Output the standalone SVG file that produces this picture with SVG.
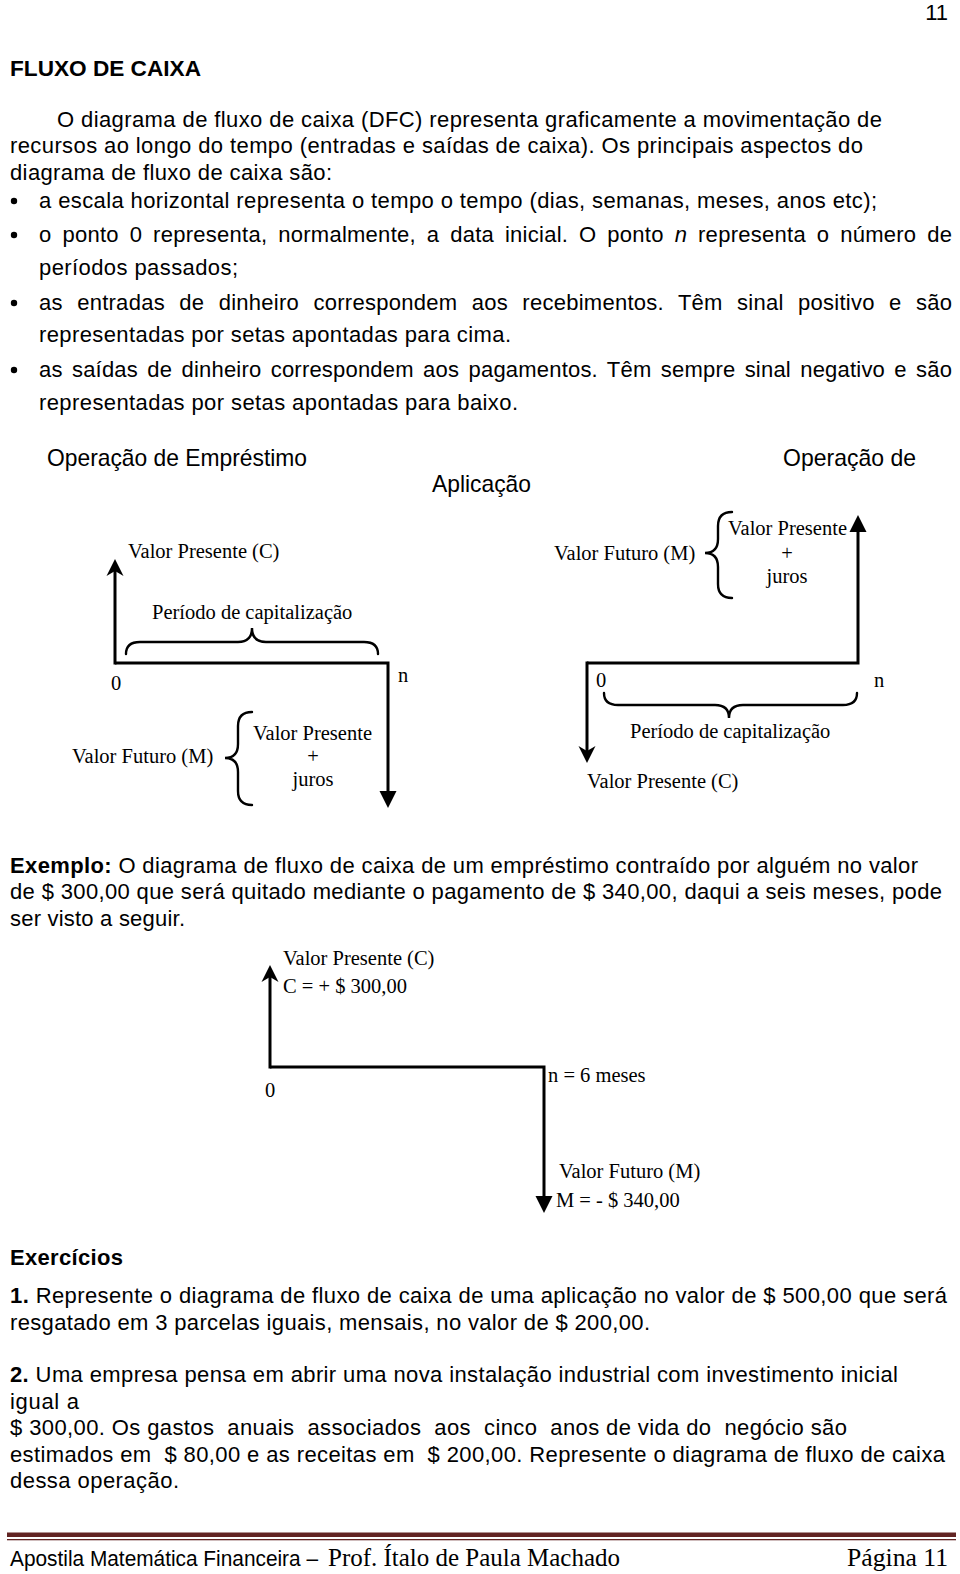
<svg xmlns="http://www.w3.org/2000/svg" width="960" height="1574" viewBox="0 0 960 1574">
<style>
.b{font-family:"Liberation Sans",Arial,sans-serif;font-size:22px;fill:#000}
.bb{font-family:"Liberation Sans",Arial,sans-serif;font-size:22px;font-weight:bold;fill:#000}
.h{font-family:"Liberation Sans",Arial,sans-serif;font-size:24px;fill:#000}
.t{font-family:"Liberation Serif","Times New Roman",serif;font-size:20.5px;fill:#000}
.pre{white-space:pre}
.ln{fill:none;stroke:#000;stroke-width:3;stroke-linejoin:miter}
.br{fill:none;stroke:#000;stroke-width:2.4;stroke-linecap:round}
.f1{font-family:"Liberation Sans",Arial,sans-serif;font-size:22px;fill:#000}
.f2{font-family:"Liberation Serif","Times New Roman",serif;font-size:25px;fill:#000}
</style>
<defs>
<marker id="tri" markerUnits="userSpaceOnUse" markerWidth="30" markerHeight="30" viewBox="-15 -15 30 30" refX="0" refY="0" orient="auto"><path d="M9,0 L-8,-8.5 L-8,8.5 Z" fill="#000"/></marker>
<marker id="stealth" markerUnits="userSpaceOnUse" markerWidth="30" markerHeight="30" viewBox="-15 -15 30 30" refX="0" refY="0" orient="auto"><path d="M8,0 L-9,-8.5 L-4,0 L-9,8.5 Z" fill="#000"/></marker>
</defs>
<rect width="960" height="1574" fill="#fff"/>

<g id="header">
<text class="b" x="948" y="20" text-anchor="end">11</text>
<text class="bb" x="10" y="76" textLength="191" lengthAdjust="spacingAndGlyphs">FLUXO DE CAIXA</text>
</g>

<g id="intro">
<text class="b" x="57" y="127" textLength="825" lengthAdjust="spacing">O diagrama de fluxo de caixa (DFC) representa graficamente a movimentação de</text>
<text class="b" x="10" y="153" textLength="853" lengthAdjust="spacing">recursos ao longo do tempo (entradas e saídas de caixa). Os principais aspectos do</text>
<text class="b" x="10" y="180" textLength="322" lengthAdjust="spacing">diagrama de fluxo de caixa são:</text>
<circle cx="14" cy="201" r="3.2"/>
<text class="b" x="39" y="208" textLength="838" lengthAdjust="spacing">a escala horizontal representa o tempo o tempo (dias, semanas, meses, anos etc);</text>
<circle cx="14" cy="235" r="3.2"/>
<text class="b" x="39" y="242" word-spacing="4.5" textLength="913" lengthAdjust="spacing">o ponto 0 representa, normalmente, a data inicial. O ponto <tspan font-style="italic">n</tspan> representa o número de</text>
<text class="b" x="39" y="275" textLength="199" lengthAdjust="spacing">períodos passados;</text>
<circle cx="14" cy="303" r="3.2"/>
<text class="b" x="39" y="310" word-spacing="8" textLength="913" lengthAdjust="spacing">as entradas de dinheiro correspondem aos recebimentos. Têm sinal positivo e são</text>
<text class="b" x="39" y="342" textLength="472" lengthAdjust="spacing">representadas por setas apontadas para cima.</text>
<circle cx="14" cy="370" r="3.2"/>
<text class="b" x="39" y="377" word-spacing="3" textLength="913" lengthAdjust="spacing">as saídas de dinheiro correspondem aos pagamentos. Têm sempre sinal negativo e são</text>
<text class="b" x="39" y="410" textLength="479" lengthAdjust="spacing">representadas por setas apontadas para baixo.</text>
</g>

<g id="titles">
<text class="h" x="47" y="466" textLength="260" lengthAdjust="spacingAndGlyphs">Operação de Empréstimo</text>
<text class="h" x="432" y="492" textLength="99" lengthAdjust="spacingAndGlyphs">Aplicação</text>
<text class="h" x="783" y="466" textLength="133" lengthAdjust="spacingAndGlyphs">Operação de</text>
</g>

<g id="connectors">
<path class="ln" d="M115,664.5 L115,567" marker-end="url(#stealth)"/>
<path class="ln" d="M115,663 L388,663 L388,799" marker-end="url(#tri)"/>
<path class="ln" d="M587,663 L858,663 L858,524" marker-end="url(#tri)"/>
<path class="ln" d="M587,661.5 L587,755" marker-end="url(#stealth)"/>
<path class="ln" d="M270,1068.5 L270,973" marker-end="url(#stealth)"/>
<path class="ln" d="M270,1067 L544,1067 L544,1204" marker-end="url(#tri)"/>
</g>

<g id="emprestimo">
<text class="t" x="128" y="558">Valor Presente (C)</text>
<text class="t" x="152" y="619">Período de capitalização</text>
<path class="br" d="M126,654 Q126,642 140,642 L238,642 Q252,642 252,628 Q252,642 266,642 L364,642 Q378,642 378,654"/>
<text class="t" x="111" y="690">0</text>
<text class="t" x="398" y="682">n</text>
<path class="br" d="M252,712 Q238,712 238,726 L238,744 Q238,758 225,758 Q238,758 238,772 L238,791 Q238,805 252,805"/>
<text class="t" x="72" y="763">Valor Futuro (M)</text>
<text class="t" x="253" y="740">Valor Presente</text>
<text class="t" x="313" y="763" text-anchor="middle">+</text>
<text class="t" x="313" y="786" text-anchor="middle">juros</text>
</g>

<g id="aplicacao">
<text class="t" x="554" y="560">Valor Futuro (M)</text>
<path class="br" d="M732,512 Q718,512 718,526 L718,539 Q718,553 705,553 Q718,553 718,567 L718,584 Q718,598 732,598"/>
<text class="t" x="728" y="535">Valor Presente</text>
<text class="t" x="787" y="560" text-anchor="middle">+</text>
<text class="t" x="787" y="583" text-anchor="middle">juros</text>
<text class="t" x="596" y="687">0</text>
<text class="t" x="874" y="687">n</text>
<path class="br" d="M604,693 Q604,705 618,705 L715,705 Q729,705 729,718 Q729,705 743,705 L843,705 Q857,705 857,693"/>
<text class="t" x="630" y="738">Período de capitalização</text>
<text class="t" x="587" y="788">Valor Presente (C)</text>
</g>

<g id="exemplo-texto">
<text class="b" x="10" y="873" textLength="908" lengthAdjust="spacing"><tspan font-weight="bold">Exemplo:</tspan> O diagrama de fluxo de caixa de um empréstimo contraído por alguém no valor</text>
<text class="b" x="10" y="899" textLength="932" lengthAdjust="spacing">de $ 300,00 que será quitado mediante o pagamento de $ 340,00, daqui a seis meses, pode</text>
<text class="b" x="10" y="926" textLength="175" lengthAdjust="spacing">ser visto a seguir.</text>
</g>

<g id="exemplo-diagrama">
<text class="t" x="283" y="965">Valor Presente (C)</text>
<text class="t" x="283" y="993">C = + $ 300,00</text>
<text class="t" x="265" y="1097">0</text>
<text class="t" x="548" y="1082">n = 6 meses</text>
<text class="t" x="559" y="1178">Valor Futuro (M)</text>
<text class="t" x="556" y="1207">M = - $ 340,00</text>
</g>

<g id="exercicios">
<text class="bb" x="10" y="1265" textLength="113" lengthAdjust="spacing">Exercícios</text>
<text class="b" x="10" y="1303" textLength="937" lengthAdjust="spacing"><tspan font-weight="bold">1.</tspan> Represente o diagrama de fluxo de caixa de uma aplicação no valor de $ 500,00 que será</text>
<text class="b" x="10" y="1330" textLength="640" lengthAdjust="spacing">resgatado em 3 parcelas iguais, mensais, no valor de $ 200,00.</text>
<text class="b" x="10" y="1382" textLength="888" lengthAdjust="spacing"><tspan font-weight="bold">2.</tspan> Uma empresa pensa em abrir uma nova instalação industrial com investimento inicial</text>
<text class="b" x="10" y="1409" textLength="69" lengthAdjust="spacing">igual a</text>
<text class="b pre" x="10" y="1435" textLength="837" lengthAdjust="spacing">$ 300,00. Os gastos  anuais  associados  aos  cinco  anos de vida do  negócio são</text>
<text class="b pre" x="10" y="1462" textLength="935" lengthAdjust="spacing">estimados em  $ 80,00 e as receitas em  $ 200,00. Represente o diagrama de fluxo de caixa</text>
<text class="b" x="10" y="1488" textLength="169" lengthAdjust="spacing">dessa operação.</text>
</g>

<g id="footer">
<rect x="7" y="1532.5" width="949" height="4.5" fill="#622423"/>
<rect x="7" y="1539" width="949" height="1.3" fill="#622423"/>
<text class="f1" x="10" y="1566" textLength="308" lengthAdjust="spacingAndGlyphs">Apostila Matemática Financeira –</text>
<text class="f2" x="328" y="1566" textLength="292" lengthAdjust="spacingAndGlyphs">Prof. Ítalo de Paula Machado</text>
<text class="f2" x="847" y="1566" textLength="101" lengthAdjust="spacingAndGlyphs">Página 11</text>
</g>
</svg>
